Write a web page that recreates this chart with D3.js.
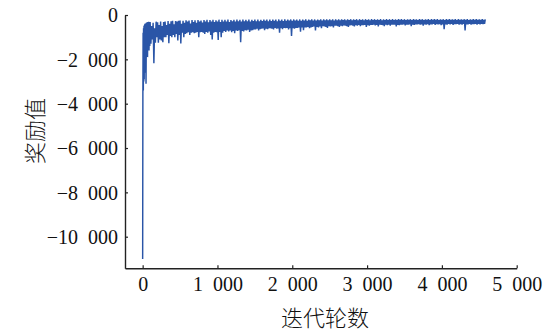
<!DOCTYPE html>
<html><head><meta charset="utf-8">
<script src="https://cdn.jsdelivr.net/npm/d3@7"></script>
<style>body{margin:0;background:#fff}</style>
</head><body>
<svg id="c" width="551" height="335"></svg>
<script>
// Early episodes (fine detail)
const earlyEpisodes = [0,3,6,9,12,15,18,21,24,27,30,35,40,45,50,55,60,65,70,75,80,85,90,95];
const earlyRewards = [-11000,-3600,-800,-3400,-600,-3000,-500,-2900,-450,-2600,-400,-2200,-380,-3100,-350,-1800,-330,-1900,-320,-1500,-300,-1600,-320,-1400];
// Main series: episodes 100..4580 every 10
const mainStart = 100, mainStep = 10;
const mainRewards = [
-320,-1300,-500,-1100,-350,-2180,-600,-1250,-300,-1000,-330,-1250,-450,-1100,-300,-1150,-500,-1230,-320,-1000,
-290,-1000,-450,-900,-270,-1270,-400,-950,-280,-1000,-260,-900,-420,-1000,-270,-850,-300,-1150,-260,-900,
-250,-1280,-400,-800,-260,-1000,-350,-850,-240,-820,-300,-780,-250,-900,-380,-800,-230,-780,-320,-820,
-240,-800,-350,-760,-230,-1000,-300,-780,-250,-760,-340,-800,-230,-850,-300,-760,-220,-800,-330,-740,
-230,-900,-300,-1100,-220,-800,-320,-760,-240,-780,-300,-1130,-210,-760,-320,-1000,-220,-800,-300,-720,
-220,-760,-300,-700,-210,-740,-320,-700,-230,-780,-280,-720,-220,-820,-300,-700,-210,-720,-280,-680,
-220,-1230,-300,-720,-210,-740,-290,-680,-220,-700,-280,-660,-200,-760,-300,-700,-220,-680,-270,-650,
-210,-650,-280,-620,-200,-700,-290,-640,-220,-620,-270,-600,-210,-680,-260,-620,-200,-640,-280,-600,
-210,-600,-270,-620,-200,-650,-260,-580,-210,-620,-280,-600,-200,-800,-260,-600,-210,-640,-270,-580,
-200,-600,-260,-580,-210,-650,-250,-600,-200,-950,-260,-600,-200,-620,-250,-580,-210,-580,-260,-560,
-200,-750,-260,-560,-210,-680,-250,-560,-200,-560,-260,-540,-210,-600,-240,-560,-200,-540,-250,-520,
-200,-700,-250,-540,-210,-560,-240,-520,-200,-600,-250,-500,-190,-520,-240,-540,-200,-580,-240,-500,
-200,-520,-240,-500,-190,-560,-250,-480,-200,-480,-240,-500,-190,-540,-240,-480,-200,-500,-230,-470,
-190,-480,-240,-500,-200,-540,-230,-470,-190,-460,-240,-480,-200,-520,-230,-460,-190,-480,-240,-450,
-190,-500,-230,-460,-200,-460,-240,-440,-190,-540,-230,-460,-200,-480,-240,-450,-190,-450,-230,-440,
-190,-470,-230,-450,-200,-520,-230,-440,-190,-450,-240,-460,-200,-500,-230,-440,-190,-460,-230,-430,
-190,-480,-230,-440,-190,-440,-230,-430,-200,-520,-230,-450,-190,-460,-220,-430,-190,-430,-230,-420,
-190,-470,-230,-430,-200,-440,-220,-420,-190,-500,-230,-440,-190,-450,-220,-420,-200,-420,-230,-410,
-190,-440,-220,-420,-190,-480,-230,-420,-200,-430,-220,-410,-190,-460,-230,-420,-190,-420,-220,-400,
-190,-450,-220,-410,-190,-420,-230,-410,-200,-460,-220,-420,-190,-640,-230,-420,-190,-430,-220,-400,
-190,-420,-220,-400,-200,-450,-220,-410,-190,-410,-230,-400,-190,-440,-220,-410,-200,-430,-220,-400,
-190,-700,-220,-420,-190,-420,-230,-400,-200,-440,-220,-410,-190,-410,-220,-400,-190,-430,-220,-400,
-200,-420,-220,-400,-190,-410,-220,-400,-200
];
const xTicks = [0,1000,2000,3000,4000,5000];
const yTicks = [-10000,-8000,-6000,-4000,-2000,0];
const xTitle = "迭代轮数";
const yTitle = "奖励值";

const data = earlyEpisodes.map((e,i)=>({x:e,y:earlyRewards[i]}))
  .concat(mainRewards.map((v,i)=>({x:mainStart+i*mainStep,y:v})));

const svg = d3.select("#c");
const x = d3.scaleLinear().domain([-236,5000]).range([125,516.7]);
const y = d3.scaleLinear().domain([-11425,0]).range([268.3,15]);

const loc = d3.formatLocale({decimal:".",thousands:"\u2002",grouping:[3],currency:["",""],minus:"\u2212"});
const fmt = loc.format(",d");

svg.append("path").datum(data)
  .attr("fill","none").attr("stroke","#2a55a7").attr("stroke-width",1.45)
  .attr("stroke-linejoin","miter")
  .attr("d", d3.line().x(d=>x(d.x)).y(d=>y(d.y)));

const fontNum = "Liberation Serif, Times New Roman, serif";
const gx = svg.append("g").attr("transform","translate(0,268.3)")
  .call(d3.axisBottom(x).tickValues(xTicks).tickFormat(fmt).tickSizeInner(-3).tickSizeOuter(0).tickPadding(8));
const gy = svg.append("g").attr("transform","translate(125,0)")
  .call(d3.axisLeft(y).tickValues(yTicks).tickFormat(fmt).tickSizeInner(-3).tickSizeOuter(0).tickPadding(7));
[gx,gy].forEach(g=>{
  g.attr("font-family",null);
  g.select(".domain").attr("stroke","#222").attr("stroke-width",1.4);
  g.selectAll(".tick line").attr("stroke","#222").attr("stroke-width",1.2);
  g.selectAll("text").style("font-family",fontNum).style("font-size","20px").attr("fill","#111");
});
gy.selectAll("text").attr("dy","0.34em");
gx.selectAll("text").attr("dy","0.75em");

svg.append("text").text(xTitle).attr("x",325).attr("y",326)
  .attr("text-anchor","middle").style("font-family","Noto Sans CJK SC").attr("font-weight",300)
  .style("font-size","22px").attr("fill","#111");
svg.append("text").text(yTitle)
  .attr("transform","translate(43,131) rotate(-90)")
  .attr("text-anchor","middle").style("font-family","Noto Sans CJK SC").attr("font-weight",300)
  .style("font-size","22px").attr("fill","#111");
</script>
</body></html>
